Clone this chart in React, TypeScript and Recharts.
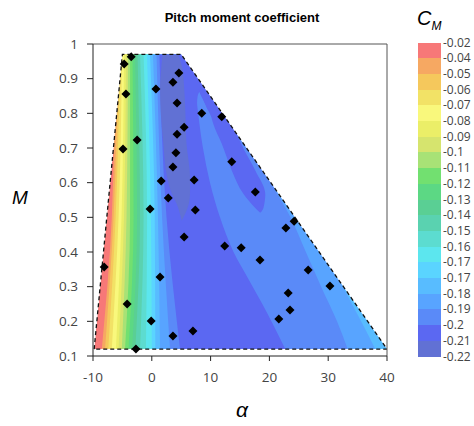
import React from "react";
import { ComposedChart, Area, Line, Scatter, XAxis, YAxis, ReferenceLine } from "recharts";

// colour bar, top to bottom
const levelLabels = ["-0.02", "-0.04", "-0.05", "-0.06", "-0.07", "-0.08", "-0.09", "-0.1", "-0.11", "-0.12", "-0.13",
  "-0.14", "-0.15", "-0.16", "-0.17", "-0.17", "-0.18", "-0.19", "-0.2", "-0.21", "-0.22"];
const bandColors = ["#f77878", "#f6a862", "#f5c85c", "#f2e266", "#f9f87c", "#ebee68", "#d6e46e", "#a8e276", "#72e070",
  "#5cd884", "#5acf94", "#5ad2b0", "#5cdcd0", "#5ce6ee", "#5ad4ff", "#58bcff", "#58a4ff", "#5a8af8", "#5b68f2", "#6171d4"];

const alphaTicks = [-10, 0, 10, 20, 30, 40];
const machTicks = [0.1, 0.2, 0.3, 0.4, 0.5, 0.6, 0.7, 0.8, 0.9, 1];

// test envelope (alpha, M)
const envM = [0.12, 0.97];
const envLeft = [-9.8, -5];
const envRight = [40, 5];
const outlineA = [-9.8, -5, 5, 40, -9.8];
const outlineM = [0.12, 0.97, 0.97, 0.12, 0.12];
// white masks outside the envelope (slightly taller than it)
const maskM = [0.115, 0.12, 0.97, 0.978];
const maskLeft = [-9.8, -9.8, -5, -5];
const maskRight = [40, 40, 5, 5];

// left-hand contour lines, alpha read at these Mach rows
const leftM = [0.12, 0.5, 0.97];
const leftAlpha = [
  [-8.5, -6.8, -6.2], // -0.04
  [-7.95, -6.5, -5.75], // -0.05
  [-7.4, -6.15, -5.4], // -0.06
  [-6.8, -5.65, -5.07], // -0.07
  [-6.1, -5.15, -4.73], // -0.08
  [-5.65, -4.73, -4.39], // -0.09
  [-5.1, -4.3, -4.05], // -0.1
  [-4.55, -3.7, -3.7], // -0.11
  [-3.95, -3.1, -3.28], // -0.12
  [-3.35, -2.5, -2.86], // -0.13
  [-2.8, -2.0, -2.43], // -0.14
  [-2.0, -1.4, -2.0], // -0.15
  [-1.0, -0.8, -1.4], // -0.16
  [0.0, -0.15, -0.82], // -0.17
  [0.6, 0.5, -0.3], // -0.17
  [1.4, 1.05, 0.2], // -0.18
  [3.1, 1.75, 0.8], // -0.19
  [4.8, 2.5, 1.3], // -0.2
];

// -0.21 core
const coreM = [0.49, 0.54, 0.568, 0.616, 0.712, 0.808, 0.875, 0.93, 0.97];
const coreLeft = [5.1, 4.2, 3.4, 2.6, 1.96, 1.5, 1.4, 1.6, 1.8];
const coreRight = [5.1, 6.3, 6.5, 6.5, 5.9, 5.7, 5.5, 5.2, 4.5];

// -0.19..-0.2 tongue coming up from the lower right
const tongueM = [0.12, 0.25, 0.32, 0.4, 0.5, 0.6, 0.7, 0.77, 0.8, 0.83, 0.85, 0.862];
const tongueLeft = [22.7, 18.8, 16.5, 13.9, 11.6, 9.9, 8.7, 8.1, 7.9, 7.7, 7.8, 8.1];
const tongueRight = [40, 40, 40, 40, 40, 40, 40, 40, 10.1, 9.0, 8.5, 8.1];

// -0.2 pocket inside the tongue
const pocketM = [0.514, 0.528, 0.567, 0.635, 0.712, 0.769, 0.79, 0.83, 0.862, 0.87];
const pocketLeft = [18.4, 17.55, 15.6, 13.6, 11.9, 10.46, 10.1, 9.0, 8.1, 8.0];
const pocketRight = [18.5, 19.0, 19.3, 17.6, 15.2, 14.0, 14.0, 14.0, 14.0, 12.0];

// right-hand contours -0.19 and -0.18
const right19M = [0.12, 0.2, 0.3, 0.4, 0.5, 0.6, 0.7, 0.85, 0.97];
const right19 = [33.3, 31.5, 28.8, 26.2, 23.6, 20.4, 18.5, 16.5, 15.0];
const right18M = [0.12, 0.2, 0.3, 0.4, 0.55, 0.97];
const right18 = [38.0, 35.6, 32.5, 29.6, 27.0, 24.0];

// sample points
const alphaPts = [-3.5, -4.7, 4.6, 3.6, -4.4, 0.7, 4.3, 8.5, 11.9, 5.5, 4.3, -2.5, -4.9, 4.1, 3.6, 1.6, 7.2, 13.6, 17.6,
  2.8, -0.3, 7.4, 24.2, 22.8, 5.5, 12.4, 15.2, 18.4, 26.6, -8.1, 1.4, 30.3, 23.2, -4.2, 23.5, 21.6, -0.1, 7.0, 3.6, -2.7];
const machPts = [0.963, 0.942, 0.916, 0.89, 0.856, 0.87, 0.83, 0.8, 0.79, 0.76, 0.74, 0.723, 0.697, 0.686, 0.645, 0.605,
  0.608, 0.66, 0.573, 0.556, 0.524, 0.521, 0.489, 0.469, 0.443, 0.417, 0.412, 0.377, 0.348, 0.357, 0.328, 0.302, 0.282,
  0.25, 0.233, 0.207, 0.201, 0.172, 0.158, 0.12];

type Row = { M: number; r: [number, number] };
const rows = (ms: number[], lo: number[] | number, hi: number[] | number): Row[] =>
  ms.map((m, j) => ({ M: m, r: [Array.isArray(lo) ? lo[j] : lo, Array.isArray(hi) ? hi[j] : hi] }));

const layers: { data: Row[]; color: string; curve: "monotone" | "linear" }[] = [
  { data: rows(envM, envLeft, envRight), color: bandColors[0], curve: "linear" },
  ...leftAlpha.map((a, i) => ({ data: rows(leftM, a, 40), color: bandColors[i + 1], curve: "monotone" as const })),
  { data: rows(coreM, coreLeft, coreRight), color: bandColors[19], curve: "monotone" },
  { data: rows(tongueM, tongueLeft, tongueRight), color: bandColors[17], curve: "monotone" },
  { data: rows(pocketM, pocketLeft, pocketRight), color: bandColors[18], curve: "monotone" },
  { data: rows(right19M, right19, 40), color: bandColors[16], curve: "monotone" },
  { data: rows(right18M, right18, 40), color: bandColors[15], curve: "monotone" },
  // blank out everything outside the envelope
  { data: rows(maskM, -9.85, maskLeft), color: "#ffffff", curve: "linear" },
  { data: rows(maskM, maskRight, 40), color: "#ffffff", curve: "linear" },
];

const outline = outlineA.map((a, i) => ({ a, M: outlineM[i] }));
const points = alphaPts.map((a, i) => ({ a, M: machPts[i] }));

const Diamond = (props: any) => {
  const { cx, cy } = props;
  const s = 4.5;
  return <polygon points={`${cx},${cy - s} ${cx + s},${cy} ${cx},${cy + s} ${cx - s},${cy}`} fill="#000" />;
};

const tickFont = { fontSize: 13.5, fill: "#444", fontFamily: "'Open Sans', 'Noto Sans', sans-serif" };
const barTop = 42.5;
const barStep = 15.7;
const barY = (i: number) => Math.round(barTop + i * barStep);

export default function App() {
  return (
    <div style={{ position: "absolute", left: 0, top: 0, width: 474, height: 426, background: "#fff" }}>
      <ComposedChart layout="vertical" width={474} height={426} margin={{ top: 44, right: 87, bottom: 40, left: 53 }}>
        <XAxis type="number" domain={[-10, 40]} ticks={alphaTicks} allowDataOverflow stroke="#222" tickSize={5}
          tickMargin={11} tick={tickFont} height={30} />
        <YAxis type="number" dataKey="M" domain={[0.1, 1]} ticks={machTicks} allowDataOverflow reversed stroke="#222"
          width={40} tickSize={6} tickMargin={9} tick={tickFont} />
        {layers.map((l, i) => (
          <Area key={i} data={l.data} dataKey="r" type={l.curve} fill={l.color} fillOpacity={1} stroke="none"
            dot={false} activeDot={false} isAnimationActive={false} />
        ))}
        <Line data={outline} dataKey="a" type="linear" stroke="#111" strokeWidth={1.3} strokeDasharray="4 3"
          dot={false} activeDot={false} isAnimationActive={false} />
        <ReferenceLine y={1} stroke="#555" />
        <ReferenceLine x={40} stroke="#555" />
        <Scatter data={points} dataKey="a" shape={Diamond} isAnimationActive={false} />
      </ComposedChart>

      <div style={{ position: "absolute", left: 0, width: 484, top: 10, textAlign: "center", fontSize: 13,
        fontWeight: "bold", lineHeight: "16px", fontFamily: "'Liberation Sans', Arial, sans-serif" }}>
        Pitch moment coefficient
      </div>
      <div style={{ position: "absolute", left: 12, top: 186, fontSize: 19, fontStyle: "italic", lineHeight: "24px",
        fontFamily: "'Liberation Sans', Arial, sans-serif" }}>M</div>
      <div style={{ position: "absolute", left: 236, top: 398, fontSize: 21, fontStyle: "italic", lineHeight: "24px",
        fontFamily: "'Liberation Sans', Arial, sans-serif" }}>α</div>
      <div style={{ position: "absolute", left: 417, top: 6, fontSize: 20, fontStyle: "italic", lineHeight: "24px",
        fontFamily: "'Liberation Sans', Arial, sans-serif" }}>
        C<span style={{ fontSize: 12, position: "relative", top: 5 }}>M</span>
      </div>
      {bandColors.map((c, i) => (
        <div key={i} style={{ position: "absolute", left: 418, top: barY(i), width: 23,
          height: barY(i + 1) - barY(i), background: c }} />
      ))}
      {levelLabels.map((t, i) => (
        <div key={i} style={{ position: "absolute", left: 443, top: barTop + i * barStep - 8, lineHeight: "16px",
          fontSize: 12, color: "#444", fontFamily: "'Open Sans', 'Noto Sans', sans-serif" }}>{t}</div>
      ))}
    </div>
  );
}
